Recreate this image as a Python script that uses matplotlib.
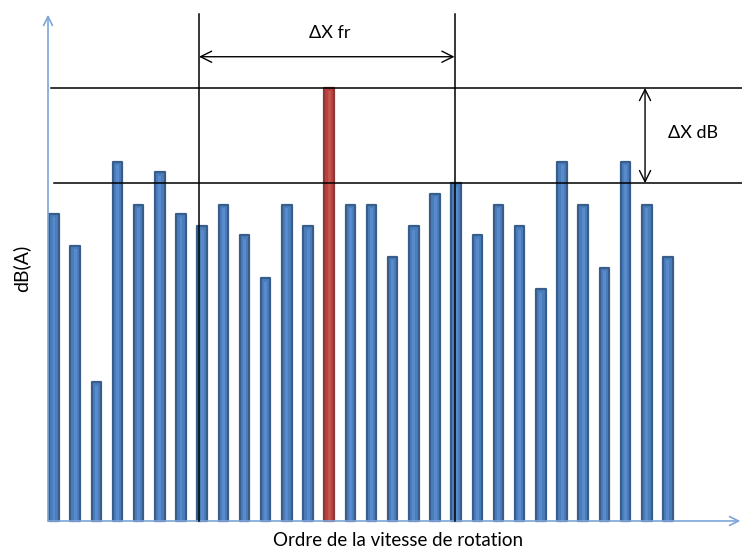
"""Spectre d'ordres : émergence de la raie dominante (ΔX dB) et écart en ordres (ΔX fr)."""

import matplotlib
matplotlib.use("Agg")
import matplotlib.pyplot as plt

# ordres de la vitesse de rotation (1 barre par ordre)
orders = list(range(1, 31))
# niveaux (unité arbitraire, raie dominante = 100)
levels = [71, 63.5, 32, 83, 73, 80.5, 71, 68, 73, 66,
          56, 73, 68, 100, 73, 73, 61, 68, 75.5, 78,
          66, 73, 68, 53.5, 83, 73, 58.5, 83, 73, 61]
peak_order = 14          # raie en rouge
second_level = 78        # niveau de la 2e raie, ligne de référence basse
fr_left, fr_right = 7.85, 19.92   # repères verticaux pour ΔX fr

blue, blue_edge, blue_light = "#4A7EBB", "#385D8A", "#5A8ACB"
red, red_edge, red_light = "#B9433F", "#8C3836", "#C45450"
axis_blue = "#7EA6D8"

fig = plt.figure(figsize=(7.42, 5.5), dpi=100)
ax = fig.add_axes([0, 0, 1, 1])
ax.set_xlim(-1.551, 33.50)
ax.set_ylim(-6.70, 120.3)
ax.axis("off")

colors = [red if o == peak_order else blue for o in orders]
edges = [red_edge if o == peak_order else blue_edge for o in orders]
lights = [red_light if o == peak_order else blue_light for o in orders]
ax.bar(orders, levels, width=0.45, color=colors, edgecolor=edges,
       linewidth=1.6, joinstyle="round", zorder=2)
# reflet clair au centre des barres
ax.bar(orders, [v - 0.8 for v in levels], width=0.14, color=lights,
       linewidth=0, zorder=2.5)

# axes fléchés
ax.annotate("", xy=(0.717, 116.9), xytext=(0.717, 0),
            arrowprops=dict(arrowstyle="->", color=axis_blue, lw=1.2,
                            mutation_scale=16, shrinkA=0, shrinkB=0))
ax.annotate("", xy=(33.42, 0), xytext=(0.717, 0),
            arrowprops=dict(arrowstyle="->", color=axis_blue, lw=1.2,
                            mutation_scale=16, shrinkA=0, shrinkB=0))

# lignes de référence
ax.plot([0.858, 33.5], [max(levels), max(levels)], color="black", lw=1.1, zorder=3)
ax.plot([1.0, 33.5], [second_level, second_level], color="black", lw=1.1, zorder=3)
for xv in (fr_left, fr_right):
    ax.plot([xv, xv], [0, 117.1], color="black", lw=1.1, zorder=3)

# cotes
ax.annotate("", xy=(fr_right, 107.2), xytext=(fr_left, 107.2),
            arrowprops=dict(arrowstyle="<->", color="black", lw=1.0,
                            mutation_scale=20, shrinkA=0, shrinkB=0))
ax.annotate("", xy=(28.92, max(levels)), xytext=(28.92, second_level),
            arrowprops=dict(arrowstyle="<->", color="black", lw=1.0,
                            mutation_scale=20, shrinkA=0, shrinkB=0))

font = ["Lato", "DejaVu Sans"]
ax.text(14.04, 112.7, "ΔX fr", fontsize=13, family=font, ha="center", va="center")
ax.text(31.18, 89.6, "ΔX dB", fontsize=13, family=font, ha="center", va="center")

fig.text(398 / 742, 1 - 541 / 550, "Ordre de la vitesse de rotation",
         fontsize=13.5, family=font, ha="center", va="center")
fig.text(21 / 742, 1 - 268 / 550, "dB(A)", fontsize=14, family=font,
         ha="center", va="center", rotation=90)

fig.savefig("out.png", dpi=100)
